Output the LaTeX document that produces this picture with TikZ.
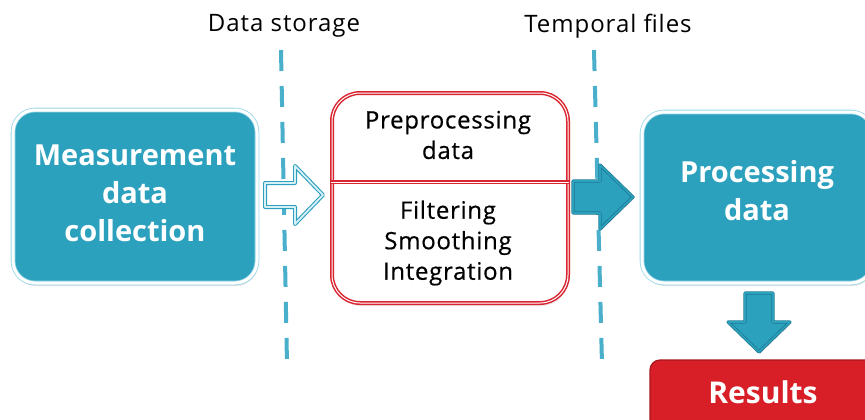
\documentclass[tikz,border=0pt]{standalone}
\usepackage{fontspec}
\setmainfont{Open Sans}
\usetikzlibrary{shadows}
\definecolor{bluefill}{HTML}{2CA1BE}
\definecolor{bluelight}{HTML}{9AD8E8}
\definecolor{bluedark}{HTML}{1D7A93}
\definecolor{dashblue}{HTML}{4AAFCB}
\definecolor{redline}{HTML}{DA2530}
\definecolor{redfill}{HTML}{D81F28}
\definecolor{reddark}{HTML}{A8161D}
\begin{document}
\begin{tikzpicture}[x=1pt,y=-1pt,
  bluebox/.style={draw=bluelight, double=white, double distance=3pt, line width=0.8pt,
    fill=bluefill, rounded corners=22pt, inner sep=0pt,
    drop shadow={opacity=0.22,shadow xshift=1pt,shadow yshift=-3pt}},
  bluetext/.style={text=white, font=\bfseries\fontsize{29}{38}\selectfont, align=center},
  redbox/.style={draw=redline, double=white, double distance=1pt, line width=1.5pt,
    fill=white, rounded corners=28pt, inner sep=0pt,
    drop shadow={opacity=0.18,shadow xshift=1pt,shadow yshift=-3pt}},
  redtext/.style={font=\fontsize{24}{30.5}\selectfont\addfontfeatures{LetterSpace=3,FakeBold=0.5},
    align=center, text=black},
  toplabel/.style={font=\fontsize{24}{28}\selectfont\addfontfeatures{LetterSpace=4},
    text=black},
  sepline/.style={draw=dashblue, line width=4pt, dash pattern=on 21pt off 15pt},
  hollowarrow/.style={draw=bluefill, line width=1.1pt, double=white!60!bluelight,
    double distance=1.8pt, fill=white, line join=round},
  fullarrow/.style={draw=bluedark, line width=0.8pt, double=bluefill,
    double distance=1.6pt, fill=bluefill, line join=round,
    drop shadow={opacity=0.2,shadow xshift=1pt,shadow yshift=-2pt}},
  resultbox/.style={draw=reddark, line width=1.2pt, fill=redfill, rounded corners=10pt,
    inner sep=0pt},
  resulttext/.style={text=white, font=\bfseries\fontsize{30}{36}\selectfont}
]
\fill[white] (0,0) rectangle (865,420);
\useasboundingbox (0,0) rectangle (865,420);
\clip (0,0) rectangle (865,420);

% separator labels
\node[toplabel] (lstore) at (284,26) {Data storage};
\node[toplabel] (ltemp) at (608,26) {Temporal files};

% separator lines
\coordinate (d1t) at (281,50);
\coordinate (d1b) at (287,364);
\coordinate (d2t) at (594,50);
\coordinate (d2b) at (602,364);
\draw[sepline] (d1t) -- (d1b);
\draw[sepline] (d2t) -- (d2b);

% boxes
\node[bluebox, minimum width=244pt, minimum height=173pt] (meas) at (135,196.5) {};
\node[bluetext] (meastext) at (135,193) {Measurement\\data\\collection};
\node[redbox, minimum width=236pt, minimum height=210pt] (pre) at (450,198) {};
\draw[draw=redline, double=white, double distance=1pt, line width=1.5pt]
  ([yshift=16pt]pre.west) -- ([yshift=16pt]pre.east);
\node[redtext] (pretop) at (448,135) {Preprocessing\\data};
\node[redtext] (prebot) at (448,243) {Filtering\\Smoothing\\Integration};
\node[bluebox, minimum width=231pt, minimum height=171pt] (proc) at (757.5,197.5) {};
\node[bluetext] (proctext) at (757,191) {Processing\\data};
\node[resultbox, minimum width=226pt, minimum height=70pt] (res) at (763,395) {};
\node[resulttext] (restext) at (763,392) {Results};

% block arrows
\draw[hollowarrow] (265,183) -- (295,183) -- (295,166) -- (323,195) -- (295,224)
  -- (295,207) -- (265,207) -- cycle;
\draw[fullarrow] (573,181) -- (600,181) -- (600,165) -- (633,197) -- (600,229)
  -- (600,213) -- (573,213) -- cycle;
\draw[fullarrow] (745,293) -- (773,293) -- (773,322) -- (790,322) -- (759,352)
  -- (728,322) -- (745,322) -- cycle;
\end{tikzpicture}
\end{document}
